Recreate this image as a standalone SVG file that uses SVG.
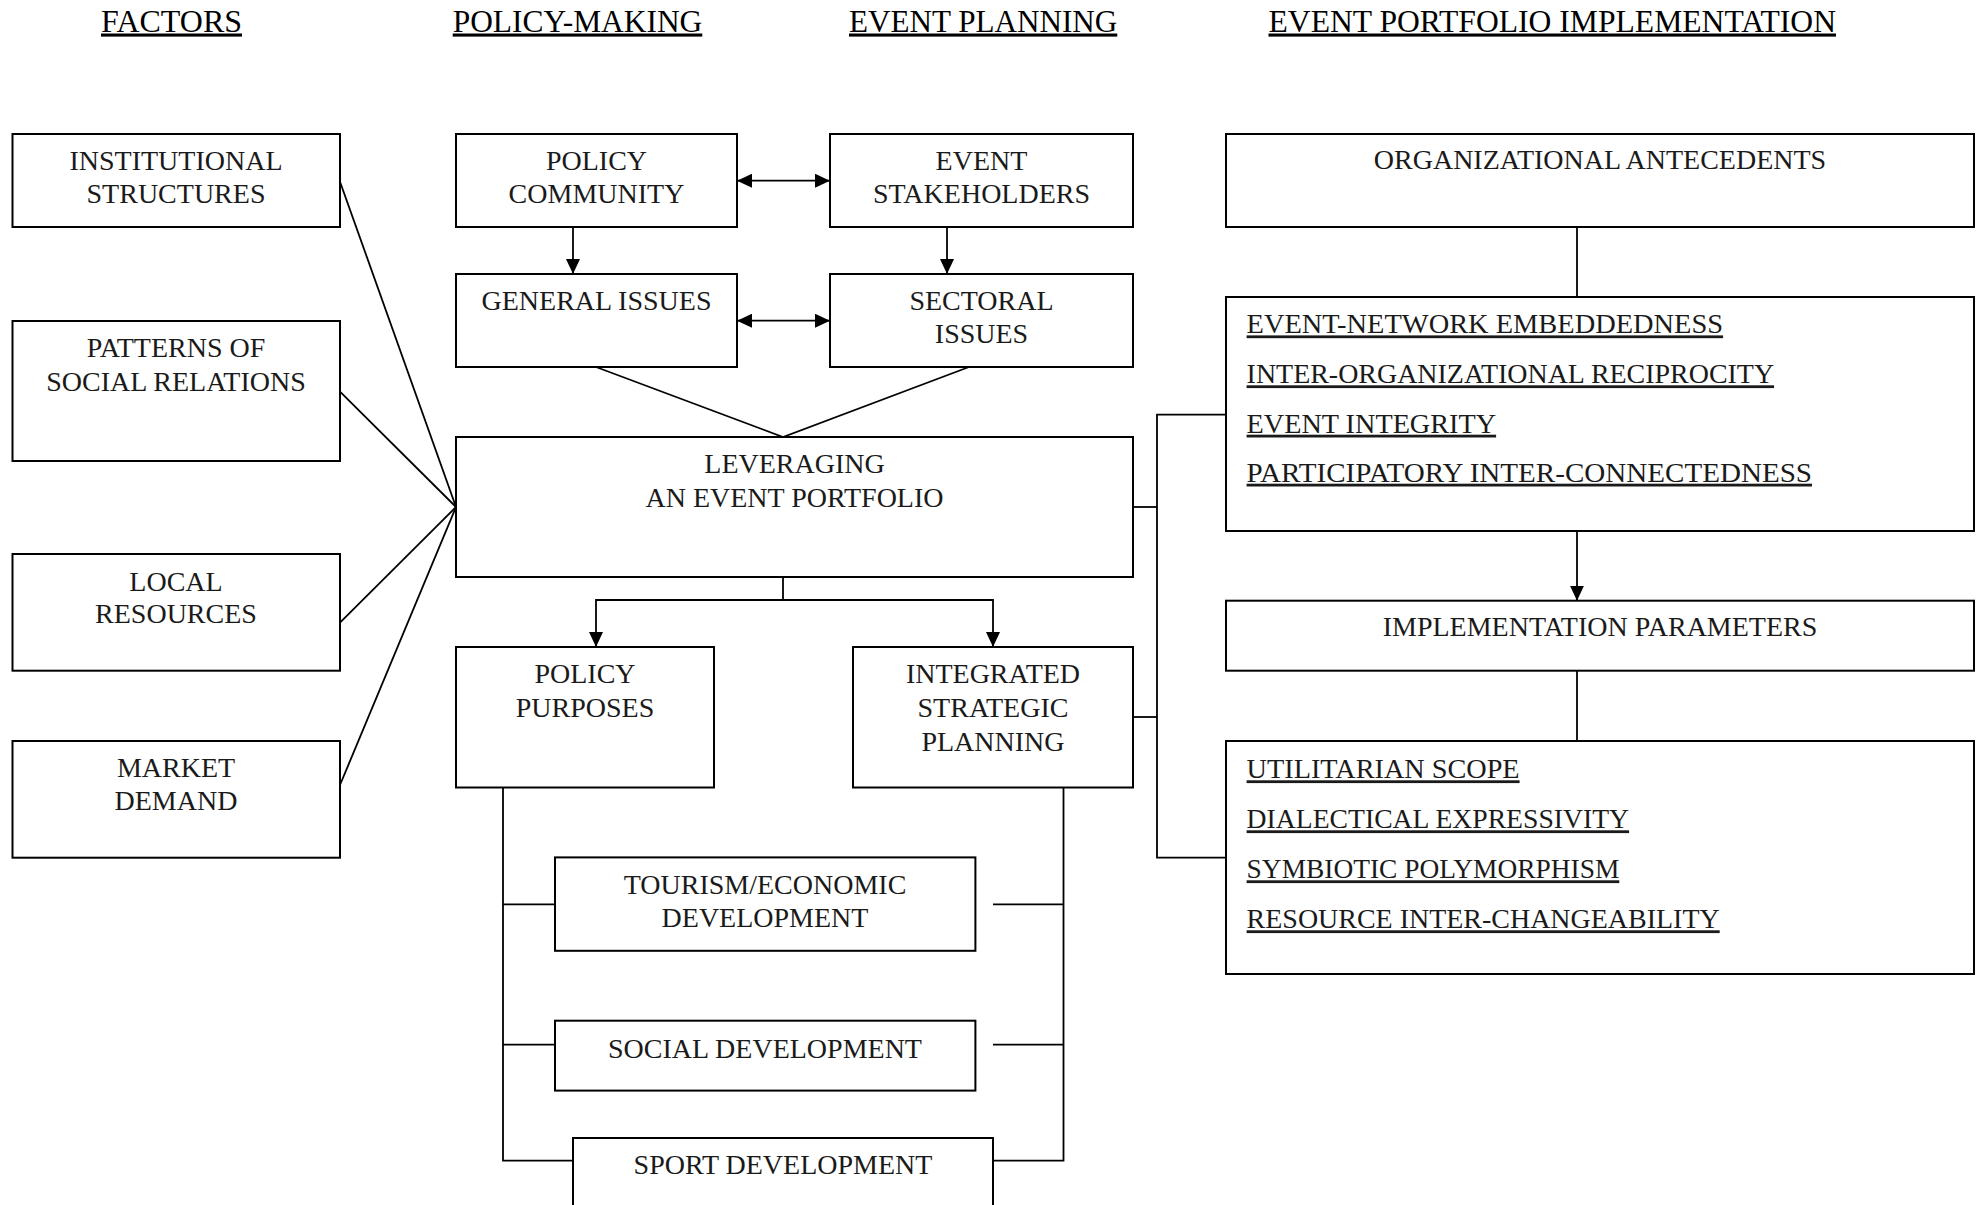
<svg xmlns="http://www.w3.org/2000/svg" width="1984" height="1205" viewBox="0 0 1984 1205">
<defs>
<style>
.box{fill:#fff;stroke:#000;stroke-width:2}
.t{font-family:"Liberation Serif","Times New Roman",serif;font-size:28px;fill:#1a1a1a;text-anchor:middle}
.l{font-family:"Liberation Serif","Times New Roman",serif;font-size:28px;fill:#1a1a1a;text-decoration:underline}
.h{font-family:"Liberation Serif","Times New Roman",serif;font-size:31px;fill:#000;text-decoration:underline}
.c{fill:none;stroke:#000;stroke-width:1.8}
</style>
<marker id="arr" markerUnits="userSpaceOnUse" markerWidth="15" markerHeight="14" refX="15" refY="7" orient="auto-start-reverse" viewBox="0 0 15 14">
<path d="M0,0 L15,7 L0,14 z" fill="#000"/>
</marker>
</defs>
<rect width="1984" height="1205" fill="#fff"/>

<g id="titles">
<text class="h" x="101" y="31.5" textLength="141" lengthAdjust="spacingAndGlyphs">FACTORS</text>
<text class="h" x="452.7" y="31.5" textLength="249.6" lengthAdjust="spacingAndGlyphs">POLICY-MAKING</text>
<text class="h" x="849" y="31.5" textLength="268.3" lengthAdjust="spacingAndGlyphs">EVENT PLANNING</text>
<text class="h" x="1268.5" y="31.5" textLength="567.5" lengthAdjust="spacingAndGlyphs">EVENT PORTFOLIO IMPLEMENTATION</text>
</g>

<g id="connectors">
<line class="c" x1="340" y1="181.7" x2="456" y2="507"/>
<line class="c" x1="340" y1="391.7" x2="456" y2="507"/>
<line class="c" x1="340" y1="622.7" x2="456" y2="507"/>
<line class="c" x1="340" y1="785" x2="456" y2="507"/>
<line class="c" x1="737" y1="180.7" x2="830" y2="180.7" marker-start="url(#arr)" marker-end="url(#arr)"/>
<line class="c" x1="737" y1="320.7" x2="830" y2="320.7" marker-start="url(#arr)" marker-end="url(#arr)"/>
<line class="c" x1="573" y1="227" x2="573" y2="274" marker-end="url(#arr)"/>
<line class="c" x1="947" y1="227" x2="947" y2="274" marker-end="url(#arr)"/>
<polyline class="c" points="596,367 783,437 969,367"/>
<line class="c" x1="783" y1="577" x2="783" y2="600"/>
<polyline class="c" points="596,647 596,600 993,600 993,647" marker-start="url(#arr)" marker-end="url(#arr)"/>
<polyline class="c" points="503,787.5 503,1160.6 573,1160.6"/>
<line class="c" x1="503" y1="904.3" x2="573" y2="904.3"/>
<line class="c" x1="503" y1="1044.6" x2="573" y2="1044.6"/>
<polyline class="c" points="1063.5,787.5 1063.5,1160.6 993,1160.6"/>
<line class="c" x1="993" y1="904.3" x2="1063.5" y2="904.3"/>
<line class="c" x1="993" y1="1044.6" x2="1063.5" y2="1044.6"/>
<line class="c" x1="1133" y1="507" x2="1157" y2="507"/>
<line class="c" x1="1133" y1="717" x2="1157" y2="717"/>
<polyline class="c" points="1226,414.6 1157,414.6 1157,857.7 1226,857.7"/>
<line class="c" x1="1577" y1="227" x2="1577" y2="297"/>
<line class="c" x1="1577" y1="531" x2="1577" y2="600.7" marker-end="url(#arr)"/>
<line class="c" x1="1577" y1="670.7" x2="1577" y2="741"/>
</g>

<g id="institutional">
<rect class="box" x="12.5" y="134" width="327.5" height="93"/>
<text class="t" x="176" y="170">INSTITUTIONAL</text>
<text class="t" x="176" y="203.3">STRUCTURES</text>
</g>
<g id="patterns">
<rect class="box" x="12.5" y="321" width="327.5" height="140"/>
<text class="t" x="176" y="356.7">PATTERNS OF</text>
<text class="t" x="176" y="390.7">SOCIAL RELATIONS</text>
</g>
<g id="local">
<rect class="box" x="12.5" y="554" width="327.5" height="116.7"/>
<text class="t" x="176" y="591">LOCAL</text>
<text class="t" x="176" y="623.3">RESOURCES</text>
</g>
<g id="market">
<rect class="box" x="12.5" y="741" width="327.5" height="116.7"/>
<text class="t" x="176" y="776.7">MARKET</text>
<text class="t" x="176" y="810">DEMAND</text>
</g>

<g id="policy-community">
<rect class="box" x="456" y="134" width="281" height="93"/>
<text class="t" x="596.5" y="170">POLICY</text>
<text class="t" x="596.5" y="203.3">COMMUNITY</text>
</g>
<g id="event-stakeholders">
<rect class="box" x="830" y="134" width="303" height="93"/>
<text class="t" x="981.5" y="170">EVENT</text>
<text class="t" x="981.5" y="203.3">STAKEHOLDERS</text>
</g>
<g id="general-issues">
<rect class="box" x="456" y="274" width="281" height="93"/>
<text class="t" x="596.5" y="310">GENERAL ISSUES</text>
</g>
<g id="sectoral-issues">
<rect class="box" x="830" y="274" width="303" height="93"/>
<text class="t" x="981.5" y="310">SECTORAL</text>
<text class="t" x="981.5" y="343.3">ISSUES</text>
</g>
<g id="leveraging">
<rect class="box" x="456" y="437" width="677" height="140"/>
<text class="t" x="794.5" y="473.3">LEVERAGING</text>
<text class="t" x="794.5" y="506.7">AN EVENT PORTFOLIO</text>
</g>
<g id="policy-purposes">
<rect class="box" x="456" y="647" width="258" height="140.5"/>
<text class="t" x="585" y="683.3">POLICY</text>
<text class="t" x="585" y="717.3">PURPOSES</text>
</g>
<g id="integrated-strategic-planning">
<rect class="box" x="853" y="647" width="280" height="140.5"/>
<text class="t" x="993" y="683.3">INTEGRATED</text>
<text class="t" x="993" y="717.3">STRATEGIC</text>
<text class="t" x="993" y="751.3">PLANNING</text>
</g>
<g id="tourism">
<rect class="box" x="555" y="857.4" width="420.4" height="93.4"/>
<text class="t" x="765" y="894">TOURISM/ECONOMIC</text>
<text class="t" x="765" y="927.3">DEVELOPMENT</text>
</g>
<g id="social">
<rect class="box" x="555" y="1020.7" width="420.4" height="69.9"/>
<text class="t" x="765" y="1057.7">SOCIAL DEVELOPMENT</text>
</g>
<g id="sport">
<rect class="box" x="573" y="1138" width="420" height="80"/>
<text class="t" x="783" y="1173.7">SPORT DEVELOPMENT</text>
</g>

<g id="organizational-antecedents">
<rect class="box" x="1226" y="134" width="748" height="93"/>
<text class="t" x="1600" y="169">ORGANIZATIONAL ANTECEDENTS</text>
</g>
<g id="antecedent-items">
<rect class="box" x="1226" y="297" width="748" height="234"/>
<text class="l" x="1246.6" y="333.4" textLength="476.5" lengthAdjust="spacingAndGlyphs">EVENT-NETWORK EMBEDDEDNESS</text>
<text class="l" x="1246.6" y="383.3" textLength="527.5" lengthAdjust="spacingAndGlyphs">INTER-ORGANIZATIONAL RECIPROCITY</text>
<text class="l" x="1246.6" y="432.7" textLength="249.5" lengthAdjust="spacingAndGlyphs">EVENT INTEGRITY</text>
<text class="l" x="1246.6" y="481.7" textLength="565.4" lengthAdjust="spacingAndGlyphs">PARTICIPATORY INTER-CONNECTEDNESS</text>
</g>
<g id="implementation-parameters">
<rect class="box" x="1226" y="600.7" width="748" height="70"/>
<text class="t" x="1600" y="636">IMPLEMENTATION PARAMETERS</text>
</g>
<g id="parameter-items">
<rect class="box" x="1226" y="741" width="748" height="233"/>
<text class="l" x="1246.6" y="778.3" textLength="273" lengthAdjust="spacingAndGlyphs">UTILITARIAN SCOPE</text>
<text class="l" x="1246.6" y="828.3" textLength="382.5" lengthAdjust="spacingAndGlyphs">DIALECTICAL EXPRESSIVITY</text>
<text class="l" x="1246.6" y="878.3" textLength="372.7" lengthAdjust="spacingAndGlyphs">SYMBIOTIC POLYMORPHISM</text>
<text class="l" x="1246.6" y="928.3" textLength="473.1" lengthAdjust="spacingAndGlyphs">RESOURCE INTER-CHANGEABILITY</text>
</g>
</svg>
